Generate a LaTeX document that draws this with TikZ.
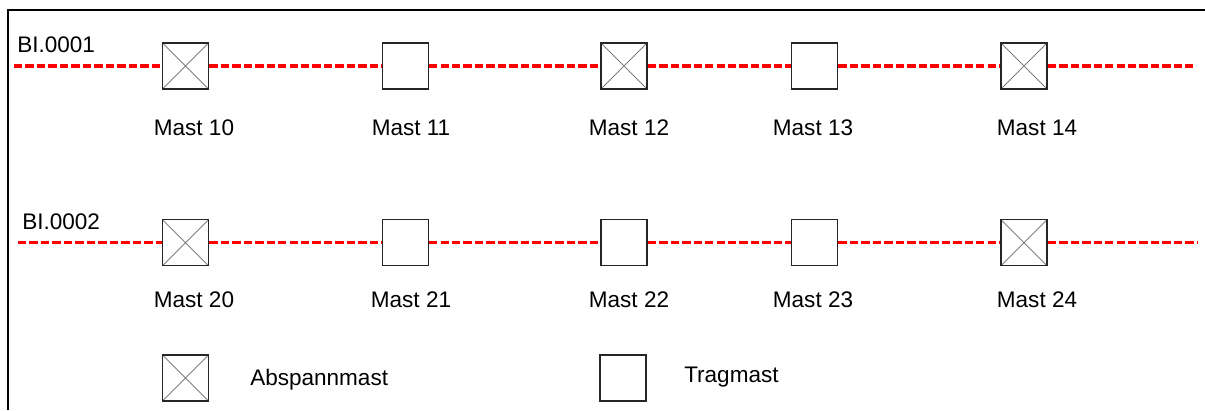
\documentclass[tikz,border=0pt]{standalone}
\usepackage{fontspec}
\setmainfont{Liberation Sans}
\usetikzlibrary{positioning}

\tikzset{
  mast/.style={draw=black!85, line width=1.1pt, fill=white, minimum size=34.5pt, inner sep=0pt},
  abspann/.style={mast, path picture={
      \draw[gray, line width=0.6pt]
        (path picture bounding box.south west) -- (path picture bounding box.north east)
        (path picture bounding box.north west) -- (path picture bounding box.south east);}},
  trag/.style={mast},
  wire/.style={red, line width=2.6pt, dash pattern=on 6.3pt off 2.3pt},
  lbl/.style={inner sep=0pt, font=\fontsize{16.9}{20}\selectfont}
}

\begin{document}
\begin{tikzpicture}[x=0.75pt, y=-0.75pt]
\useasboundingbox (0,0) rectangle (1205,410);
% frame
\draw[line width=1.5pt] (8,410) -- (8,10) -- (1206,10);

% Leitung 1
\node[lbl, anchor=base west] (bl1) at (17,53) {BI.0001};
\foreach \n/\x/\typ/\lx in {10/185.5/abspann/194, 11/405.3/trag/411,
    12/624/abspann/629, 13/814.7/trag/813, 14/1024/abspann/1037} {
  \node[\typ] (m\n) at (\x,66) {};
  \node[lbl, anchor=base] (t\n) at (\lx,135) {Mast \n};
}
\coordinate (a1) at (14,66);
\coordinate (b1) at (1193,66);
\draw[wire] (a1) -- (m10) (m10) -- (m11) (m11) -- (m12) (m12) -- (m13)
  (m13) -- (m14) (m14) -- (b1);

% Leitung 2
\node[lbl, anchor=base west] (bl2) at (22,229) {BI.0002};
\foreach \n/\x/\typ/\lx in {20/185.5/abspann/194, 21/405.3/trag/411,
    22/624/trag/629, 23/814.7/trag/813, 24/1024/abspann/1037} {
  \node[\typ] (m\n) at (\x,242.7) {};
  \node[lbl, anchor=base] (t\n) at (\lx,307) {Mast \n};
}
\coordinate (a2) at (18,242.7);
\coordinate (b2) at (1198,242.7);
\draw[wire] (a2) -- (m20) (m20) -- (m21) (m21) -- (m22) (m22) -- (m23)
  (m23) -- (m24) (m24) -- (b2);

% Legende
\node[abspann] (leg1) at (185.5,378) {};
\node[lbl, anchor=base west] (legt1) at (250,385) {Abspannmast};
\node[trag] (leg2) at (622.8,378) {};
\node[lbl, anchor=base west] (legt2) at (684,382.7) {Tragmast};
\end{tikzpicture}
\end{document}
